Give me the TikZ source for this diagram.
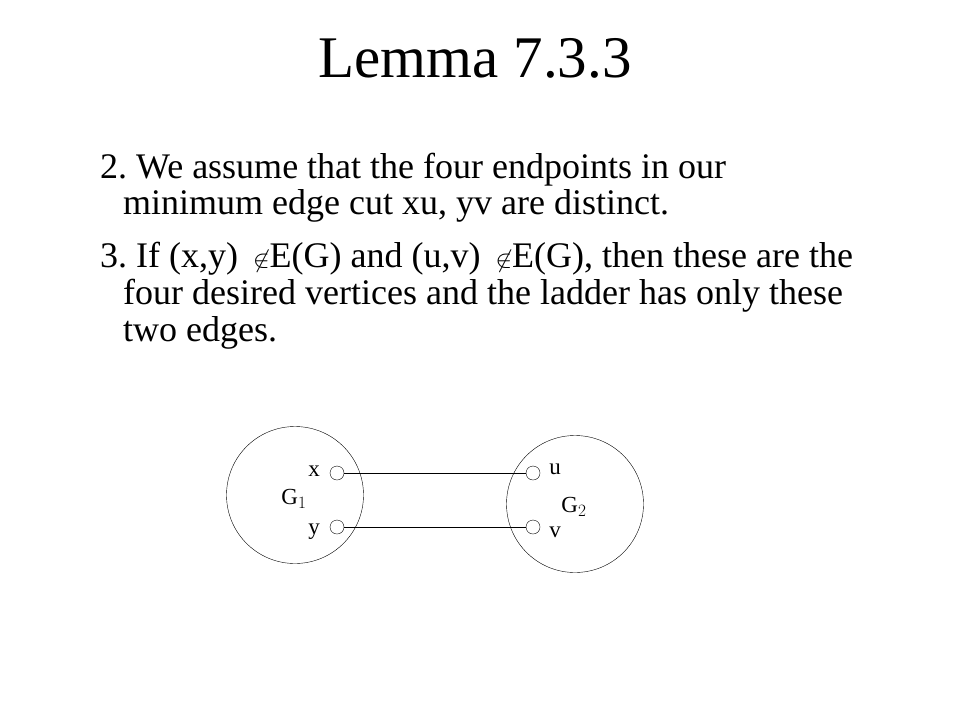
\documentclass[tikz,border=0pt]{standalone}
\usepackage{fontspec}
\setmainfont{Liberation Serif}
\begin{document}
\frenchspacing
\begin{tikzpicture}[x=1pt, y=-1pt,
	txt/.style={anchor=base west, inner sep=0pt, font=\fontsize{36}{40}\selectfont},
	blob/.style={draw, circle, minimum size=137pt, inner sep=0pt},
	port/.style={draw, circle, minimum size=14pt, inner sep=0pt},
	lbl/.style={font=\fontsize{23}{25}\selectfont, inner sep=0pt}]
	\useasboundingbox (0,0) rectangle (960,720);
	%title and text
	\node[anchor=base, inner sep=0pt, font=\fontsize{59}{64}\selectfont] (title) at (475,77) {Lemma 7.3.3};
	\node[txt] (l1) at (100,178) {2. We assume that the four endpoints in our};
	\node[txt] (l2) at (123,214) {minimum edge cut xu, yv are distinct.};
	\node[txt] (l3) at (100,267) {3. If (x,y) \,$\not\in$E(G) and (u,v) \,$\not\in$E(G), then these are the};
	\node[txt] (l4) at (123,304) {four desired vertices and the ladder has only these};
	\node[txt] (l5) at (123,341) {two edges.};
	%graphs
	\node[blob] (g1) at (295,495) {};
	\node[blob] (g2) at (575,504) {};
	\node[port] (x) at (337,473) {};
	\node[port] (y) at (337,527) {};
	\node[port] (u) at (533,473) {};
	\node[port] (v) at (533,527) {};
	\draw (x) -- (u);
	\draw (y) -- (v);
	%labels
	\node[lbl] (lx) at (314,471) {x};
	\node[lbl] (ly) at (314,532) {y};
	\node[lbl] (lu) at (555,469) {u};
	\node[lbl] (lv) at (555,532) {v};
	\node[lbl] (lg1) at (294,499) {G$_1$};
	\node[lbl] (lg2) at (574,507) {G$_2$};
\end{tikzpicture}
\end{document}
